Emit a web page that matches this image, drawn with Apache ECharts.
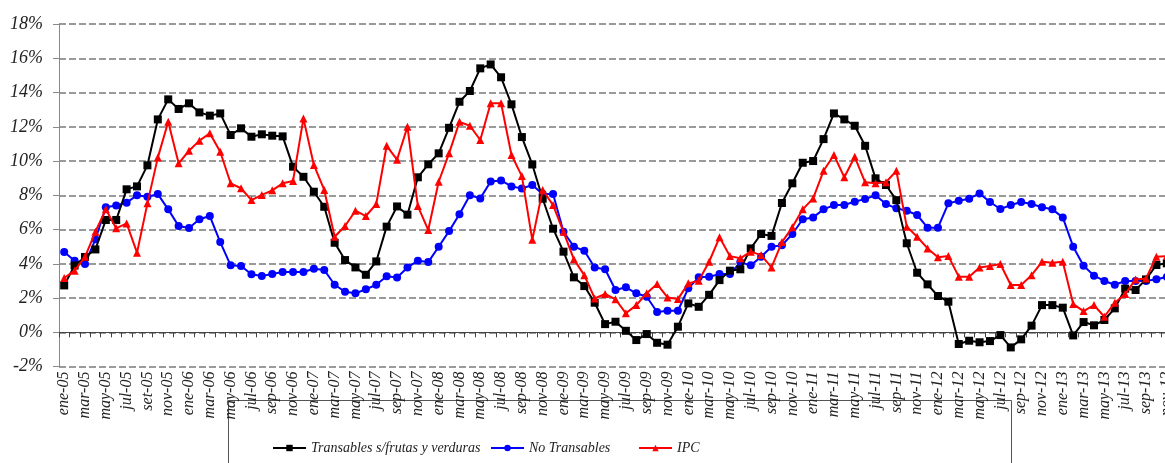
<!DOCTYPE html>
<html>
<head>
<meta charset="utf-8">
<script src="https://cdn.jsdelivr.net/npm/echarts@6/dist/echarts.min.js"></script>
<style>
html,body{margin:0;padding:0;background:#fff;}
#c{width:1165px;height:463px;}
</style>
</head>
<body>
<div id="c"></div>
<script>
const monthNames = ['ene','feb','mar','abr','may','jun','jul','ago','sep','oct','nov','dic'];
const years = ['05','06','07','08','09','10','11','12','13'];
const categories = [];
years.forEach(y => monthNames.forEach(m => categories.push(m + '-' + y)));
categories[8] = 'set-05';
categories.length = 107; // ene-05 .. nov-13

const transables = [
  2.74,3.9,4.4,4.84,6.56,6.56,8.35,8.52,9.75,12.43,13.6,13.04,
  13.37,12.84,12.65,12.78,11.52,11.91,11.42,11.56,11.48,11.44,9.67,9.08,
  8.21,7.33,5.23,4.22,3.79,3.36,4.14,6.17,7.35,6.87,9.05,9.81,
  10.45,11.94,13.46,14.09,15.41,15.64,14.89,13.31,11.4,9.8,7.8,6.05,
  4.71,3.21,2.70,1.73,0.48,0.62,0.09,-0.45,-0.1,-0.61,-0.72,0.33,
  1.69,1.49,2.19,3.05,3.60,3.68,4.90,5.74,5.63,7.55,8.70,9.90,
  10.0,11.28,12.78,12.43,12.06,10.89,8.99,8.6,7.72,5.2,3.48,2.80,
  2.12,1.79,-0.68,-0.49,-0.58,-0.51,-0.16,-0.88,-0.41,0.39,1.59,1.59,
  1.44,-0.18,0.60,0.41,0.72,1.40,2.55,2.47,3.09,3.93,4.03
];
const noTransables = [
  4.69,4.18,3.99,5.43,7.30,7.41,7.57,8.0,7.92,8.07,7.18,6.21,
  6.09,6.6,6.79,5.27,3.91,3.87,3.39,3.29,3.40,3.52,3.52,3.52,
  3.71,3.64,2.78,2.37,2.28,2.51,2.78,3.27,3.20,3.79,4.18,4.10,
  5.0,5.91,6.89,8.0,7.82,8.81,8.87,8.52,8.4,8.6,8.07,8.07,
  5.87,5.0,4.76,3.79,3.68,2.47,2.63,2.28,2.08,1.19,1.26,1.26,
  2.57,3.21,3.25,3.40,3.40,4.10,3.91,4.41,5.0,5.08,5.74,6.6,
  6.71,7.18,7.43,7.43,7.63,7.78,8.0,7.49,7.24,7.1,6.85,6.11,
  6.11,7.53,7.68,7.80,8.11,7.61,7.2,7.43,7.61,7.49,7.3,7.18,
  6.71,5.0,3.89,3.31,3.0,2.78,3.0,3.0,3.0,3.1,3.23
];
const ipc = [
  3.17,3.6,4.41,5.87,7.18,6.07,6.36,4.65,7.53,10.2,12.29,9.87,
  10.6,11.19,11.62,10.54,8.70,8.41,7.72,8.02,8.29,8.7,8.84,12.49,
  9.77,8.31,5.58,6.21,7.10,6.79,7.49,10.89,10.08,12.0,7.37,5.97,
  8.79,10.45,12.29,12.06,11.23,13.37,13.37,10.35,9.12,5.4,8.31,7.43,
  5.87,4.26,3.34,1.98,2.24,1.93,1.11,1.59,2.28,2.82,2.04,1.94,
  2.86,3.01,4.12,5.55,4.45,4.32,4.71,4.51,3.79,5.27,6.13,7.18,
  7.82,9.43,10.35,9.05,10.25,8.76,8.70,8.76,9.43,6.17,5.58,4.90,
  4.38,4.45,3.25,3.25,3.79,3.87,3.99,2.76,2.76,3.34,4.12,4.06,
  4.12,1.65,1.24,1.59,0.91,1.73,2.24,3.09,3.15,4.41,4.45
];
const seriesNames = ['Transables s/frutas y verduras','No Transables','IPC'];

const font = "'Liberation Serif','DejaVu Serif',serif";
const chart = echarts.init(document.getElementById('c'), null, {renderer:'canvas'});
const legendText = {fontFamily: font, fontStyle: 'italic', fontSize: 14, color: '#222'};
chart.setOption({
  animation: false,
  backgroundColor: '#fff',
  grid: {left: 59, top: 24, right: -7, bottom: 96.4, containLabel: false, outerBoundsMode: 'none'},
  graphic: [{
    type: 'rect', z: 0, silent: true,
    shape: {x: 228.5, y: 400.5, width: 783, height: 80},
    style: {fill: 'none', stroke: '#555', lineWidth: 1}
  }],
  legend: [
    {data: [seriesNames[0]], left: 272, top: 441, itemWidth: 33, itemHeight: 8, textStyle: legendText, padding: 0},
    {data: [seriesNames[1]], left: 490, top: 441, itemWidth: 33, itemHeight: 8, textStyle: legendText, padding: 0},
    {data: [seriesNames[2]], left: 638, top: 441, itemWidth: 33, itemHeight: 8, textStyle: legendText, padding: 0}
  ],
  xAxis: {
    type: 'category',
    data: categories,
    boundaryGap: true,
    axisLine: {onZero: true, lineStyle: {color: '#444', width: 1}},
    axisTick: {show: true, interval: 0, length: 5, lineStyle: {color: '#444'}},
    axisLabel: {interval: 1, rotate: 90, margin: 5, fontFamily: font, fontStyle: 'italic', fontSize: 16, color: '#222'},
    splitLine: {show: false}
  },
  yAxis: {
    type: 'value',
    min: -2, max: 18, interval: 2,
    axisLine: {show: true, lineStyle: {color: '#888', width: 1}},
    axisTick: {show: true, length: 6, lineStyle: {color: '#888'}},
    axisLabel: {formatter: '{value}%', margin: 16, fontFamily: font, fontStyle: 'italic', fontSize: 18, color: '#222'},
    splitLine: {show: true, lineStyle: {color: '#9a9a9a', width: 2, type: [7, 3]}}
  },
  series: [
    {name: seriesNames[0], type: 'line', data: transables, symbol: 'rect', symbolSize: 8, showAllSymbol: true,
     itemStyle: {color: '#000'}, lineStyle: {color: '#000', width: 2}, z: 3},
    {name: seriesNames[1], type: 'line', data: noTransables, symbol: 'circle', symbolSize: 8, showAllSymbol: true,
     itemStyle: {color: '#0000ff'}, lineStyle: {color: '#0000ff', width: 2}, z: 2},
    {name: seriesNames[2], type: 'line', data: ipc, symbol: 'triangle', symbolSize: 8, showAllSymbol: true,
     itemStyle: {color: '#ff0000'}, lineStyle: {color: '#ff0000', width: 2}, z: 4}
  ]
});
</script>
</body>
</html>
